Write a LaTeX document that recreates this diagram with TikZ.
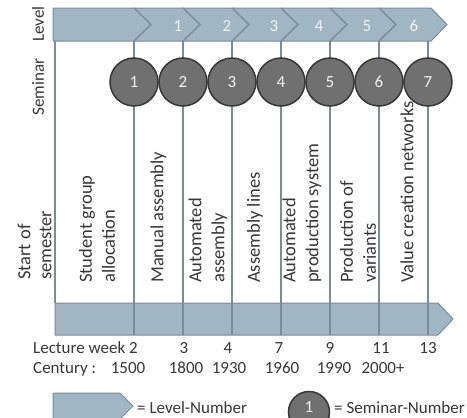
\documentclass[tikz,border=0pt]{standalone}
\usepackage{fontspec}
\setmainfont{Carlito}
\definecolor{barfill}{RGB}{160,182,195}
\definecolor{barline}{RGB}{122,140,152}
\definecolor{circfill}{RGB}{112,112,112}
\definecolor{circline}{RGB}{55,55,55}
\definecolor{txt}{RGB}{55,55,55}
\definecolor{numtxt}{RGB}{238,242,245}
\begin{document}
\begin{tikzpicture}[x=1pt,y=-1pt,
  bar/.style={fill=barfill, draw=barline, line width=1pt},
  sepline/.style={draw=barline, line width=1.4pt},
  seminar/.style={circle, fill=circfill, draw=circline, line width=1.5pt, minimum size=48pt, inner sep=0pt, text=numtxt, font=\fontsize{17}{20}\selectfont},
  coltext/.style={rotate=90, anchor=west, align=left, inner sep=0pt, text=txt, font=\fontsize{18.5}{23}\selectfont},
  lbl/.style={text=txt, font=\fontsize{17}{20}\selectfont, inner sep=0pt},
  lvlnum/.style={text=numtxt, font=\fontsize{17}{20}\selectfont, inner sep=0pt, anchor=base}
]
\useasboundingbox (0,0) rectangle (467,418);
\clip (0,0) rectangle (467,418);

% top level bar
\path[bar] (53,8) -- (431,8) -- (447,24.5) -- (431,41) -- (53,41) -- cycle;
\foreach \x in {134,183,232,281,330,379}
  \draw[sepline] (\x,8) -- ++(17,16.5) -- (\x,41);

% bottom bar
\path[bar] (55,303) -- (438,303) -- (453,319) -- (438,335) -- (55,335) -- cycle;

% left border
\coordinate (lt) at (55,41);
\coordinate (lb) at (55,303);
\draw[sepline] (lt) -- (lb);

% seminar lines and circles
\foreach \i/\x in {1/134,2/183,3/232,4/281,5/330,6/379,7/428}{
  \coordinate (t\i) at (\x,41);
  \coordinate (b\i) at (\x,335);
  \draw[sepline] (t\i) -- (b\i);
}
\foreach \i/\x in {1/134,2/183,3/232,4/281,5/330,6/379,7/428}
  \node[seminar] (s\i) at (\x,82) {\i};

% level numbers
\foreach \i/\x in {1/178,2/227,3/274,4/319,5/367,6/414}
  \node[lvlnum] (l\i) at (\x,31) {\i};

% left labels
\node[coltext, anchor=center, font=\fontsize{17}{20}\selectfont] (lev) at (38,24) {Level};
\node[coltext, anchor=center, font=\fontsize{17}{20}\selectfont] (sem) at (38,87) {Seminar};
\node[coltext, font=\fontsize{18.5}{21}\selectfont] (start) at (34.5,280) {Start of\\semester};

% column texts
\node[coltext] (c1) at (97,283) {Student group\\allocation};
\node[coltext] (c2) at (158.5,283) {Manual assembly};
\node[coltext] (c3) at (208,283) {Automated\\assembly};
\node[coltext] (c4) at (255,283) {Assembly lines};
\node[coltext] (c5) at (302,283) {Automated\\production system};
\node[coltext] (c6) at (358,283) {Production of\\variants};
\node[coltext] (c7) at (407,283) {Value creation networks};

% bottom rows
\node[lbl, anchor=base west] (lw) at (33,353) {Lecture week 2};
\foreach \i/\x/\t in {1/184/3,2/228/4,3/279/7,4/330/9,5/381/11,6/428/13}
  \node[lbl, anchor=base] (w\i) at (\x,353) {\t};
\node[lbl, anchor=base west] (cent) at (33,373) {Century :};
\foreach \i/\x/\t in {1/128/1500,2/186/1800,3/229/1930,4/282/1960,5/334/1990,6/383/2000+}
  \node[lbl, anchor=base] (y\i) at (\x,373) {\t};

% legend
\path[bar] (53,393) -- (120,393) -- (133,406) -- (120,419) -- (53,419) -- cycle;
\node[lbl, anchor=base west] (leg1) at (137,413) {= Level-Number};
\node[seminar, minimum size=41pt] (leg2) at (309,412) {};
\node[lvlnum] (leg2n) at (309,412) {1};
\node[lbl, anchor=base west] (leg3) at (334,413) {= Seminar-Number};
\end{tikzpicture}
\end{document}
